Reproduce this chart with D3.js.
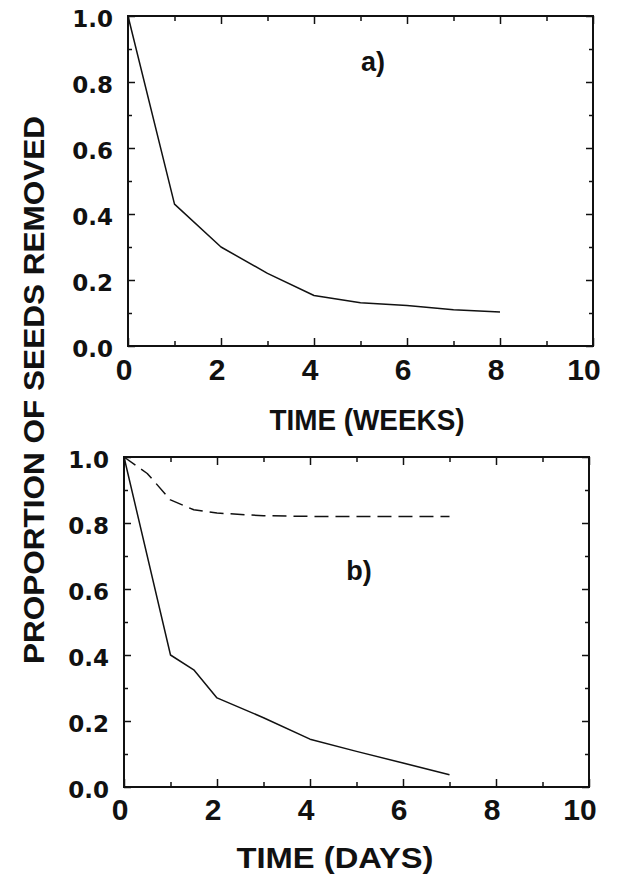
<!DOCTYPE html>
<html>
<head>
<meta charset="utf-8">
<script src="https://cdn.jsdelivr.net/npm/d3@7"></script>
<style>
  html, body { margin: 0; padding: 0; background: #ffffff; }
  svg { display: block; }
</style>
</head>
<body>
<script>
// ---------------- DATA ----------------
const xMajorTicks = [0, 2, 4, 6, 8, 10];
const xMinorTicks = [1, 3, 5, 7, 9];
const yMajorTicks = [0, 0.2, 0.4, 0.6, 0.8, 1.0];
const yMinorTicks = [0.1, 0.3, 0.5, 0.7, 0.9];
const xTickLabels = ["0", "2", "4", "6", "8", "10"];
const yTickLabels = ["0.0", "0.2", "0.4", "0.6", "0.8", "1.0"];

// panel a) : time in weeks
const weeks = [0, 1, 2, 3, 4, 5, 6, 7, 8];
const removedWeeks = [1.0, 0.43, 0.30, 0.22, 0.153, 0.131, 0.123, 0.110, 0.103];

// panel b) : time in days
const daysSolid = [0, 1, 1.5, 2, 3, 4, 5, 6, 7];
const removedDaysSolid = [1.0, 0.40, 0.355, 0.27, 0.21, 0.145, 0.108, 0.073, 0.037];
const daysDashed = [0, 0.5, 1, 1.5, 2, 3, 4, 5, 6, 7];
const removedDaysDashed = [1.0, 0.95, 0.87, 0.84, 0.83, 0.822, 0.82, 0.82, 0.82, 0.82];

const yTitle = "PROPORTION OF SEEDS REMOVED";
const xTitleA = "TIME (WEEKS)";
const xTitleB = "TIME (DAYS)";

// ---------------- DRAW ----------------
const W = 621, H = 879;
const ink = "#111";
const svg = d3.select("body").append("svg").attr("width", W).attr("height", H);
svg.append("rect").attr("width", W).attr("height", H).attr("fill", "#ffffff");

function drawPanel(box, seriesList, tag, tagX, tagY, xTitle, titleX, titleY, titleLen, xLabelY) {
  const x = d3.scaleLinear().domain([0, 10]).range([box.left, box.right]);
  const y = d3.scaleLinear().domain([0, 1]).range([box.bottom, box.top]);
  const g = svg.append("g");

  // ticks (inward)
  const addAxis = (axis, tx, ty) => {
    const a = g.append("g").attr("transform", `translate(${tx},${ty})`).call(axis);
    a.select(".domain").remove();
    a.selectAll("line").attr("stroke", ink).attr("stroke-width", 1.5);
    a.selectAll("text").remove();
  };
  addAxis(d3.axisBottom(x).tickValues(xMajorTicks).tickSize(-8), 0, box.bottom);
  addAxis(d3.axisBottom(x).tickValues(xMinorTicks).tickSize(-5), 0, box.bottom);
  addAxis(d3.axisTop(x).tickValues(xMajorTicks).tickSize(-8), 0, box.top);
  addAxis(d3.axisTop(x).tickValues(xMinorTicks).tickSize(-5), 0, box.top);
  addAxis(d3.axisLeft(y).tickValues(yMajorTicks).tickSize(-7), box.left, 0);
  addAxis(d3.axisLeft(y).tickValues(yMinorTicks).tickSize(-4), box.left, 0);
  addAxis(d3.axisRight(y).tickValues(yMajorTicks).tickSize(-7), box.right, 0);
  addAxis(d3.axisRight(y).tickValues(yMinorTicks).tickSize(-4), box.right, 0);

  // frame
  g.append("rect")
    .attr("x", box.left).attr("y", box.top)
    .attr("width", box.right - box.left).attr("height", box.bottom - box.top)
    .attr("fill", "none").attr("stroke", ink).attr("stroke-width", 2);

  // series
  const line = d3.line().x(d => x(d[0])).y(d => y(d[1]));
  seriesList.forEach(s => {
    const pts = s.xs.map((v, i) => [v, s.ys[i]]);
    g.append("path").datum(pts)
      .attr("d", line)
      .attr("fill", "none")
      .attr("stroke", ink)
      .attr("stroke-width", 1.5)
      .attr("stroke-linejoin", "round")
      .attr("stroke-dasharray", s.dash || null);
  });

  // y tick labels
  g.selectAll(".ylab").data(yMajorTicks).enter().append("text")
    .attr("x", box.left - 15)
    .attr("y", d => y(d) + 10.5)
    .attr("text-anchor", "end")
    .attr("font-family", "'DejaVu Sans', sans-serif")
    .attr("font-weight", "bold")
    .attr("font-size", 23)
    .attr("fill", ink)
    .text((d, i) => yTickLabels[i]);

  // x tick labels
  g.selectAll(".xlab").data(xMajorTicks).enter().append("text")
    .attr("x", d => x(d) - (d === 10 ? 9 : 4))
    .attr("y", xLabelY)
    .attr("text-anchor", "middle")
    .attr("font-family", "'Liberation Sans', Arial, sans-serif")
    .attr("font-weight", "bold")
    .attr("font-size", 30)
    .attr("fill", ink)
    .text((d, i) => xTickLabels[i]);

  // x title
  g.append("text")
    .attr("x", titleX).attr("y", titleY)
    .attr("text-anchor", "middle")
    .attr("font-family", "'Liberation Sans', Arial, sans-serif")
    .attr("font-weight", "bold")
    .attr("font-size", 29)
    .attr("textLength", titleLen)
    .attr("lengthAdjust", "spacingAndGlyphs")
    .attr("fill", ink)
    .text(xTitle);

  // panel tag
  g.append("text")
    .attr("x", tagX).attr("y", tagY)
    .attr("text-anchor", "middle")
    .attr("font-family", "'Liberation Sans', Arial, sans-serif")
    .attr("font-weight", "bold")
    .attr("font-size", 27)
    .attr("fill", ink)
    .text(tag);
}

drawPanel({ left: 128, right: 593, top: 16, bottom: 346 },
  [{ xs: weeks, ys: removedWeeks }],
  "a)", 373, 71, xTitleA, 367, 430, 195, 380);

drawPanel({ left: 124, right: 589, top: 457, bottom: 787 },
  [{ xs: daysSolid, ys: removedDaysSolid },
   { xs: daysDashed, ys: removedDaysDashed, dash: "14,7" }],
  "b)", 359, 580, xTitleB, 335, 868, 197, 820);

// y title
svg.append("text")
  .attr("transform", "translate(44,390) rotate(-90)")
  .attr("text-anchor", "middle")
  .attr("font-family", "'Liberation Sans', Arial, sans-serif")
  .attr("font-weight", "bold")
  .attr("font-size", 29)
  .attr("textLength", 548)
  .attr("lengthAdjust", "spacingAndGlyphs")
  .attr("fill", ink)
  .text(yTitle);
</script>
</body>
</html>
